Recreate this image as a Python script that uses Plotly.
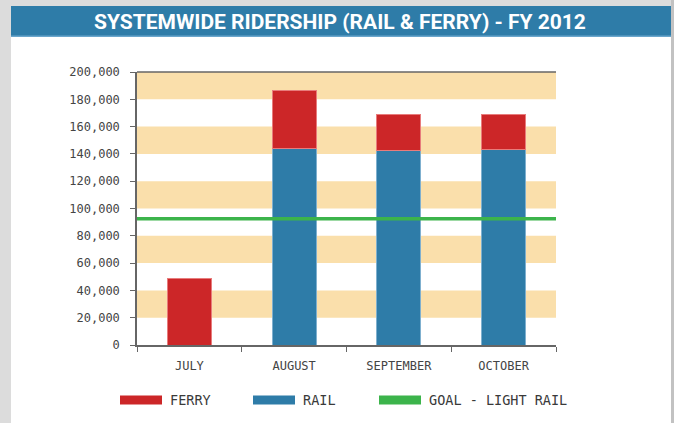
import plotly.graph_objects as go

months = ["JULY", "AUGUST", "SEPTEMBER", "OCTOBER"]
rail = [0, 144000, 142600, 143300]
ferry = [49000, 42100, 26400, 25400]
goal_light_rail = 92500
y_ticks = list(range(0, 200001, 20000))
y_tick_labels = [f"{v:,}" for v in y_ticks]

W, H = 674, 423
L, R, T, B = 137, 556, 72, 345
pw, ph = R - L, B - T

def px(x):
    return (x - L) / pw

def py(y):
    return (B - y) / ph

RED = "#cc2628"
BLUE = "#2e7ca8"
GREEN = "#3cb44b"
BAND = "#fadfab"

fig = go.Figure()
fig.add_trace(go.Bar(x=months, y=rail, name="RAIL", marker=dict(color=BLUE, line=dict(color="#7fb0cf", width=1))))
fig.add_trace(go.Bar(x=months, y=ferry, name="FERRY", marker=dict(color=RED, line=dict(color="#e87c7c", width=1))))

shapes = []
# outer white panel and title bar
shapes.append(dict(type="rect", xref="paper", yref="paper", x0=px(11), x1=px(671), y0=py(423), y1=py(6),
                   fillcolor="white", line=dict(width=0), layer="below"))
shapes.append(dict(type="rect", xref="paper", yref="paper", x0=px(671), x1=px(674), y0=py(423), y1=py(0),
                   fillcolor="#c2c2c2", line=dict(width=0), layer="below"))
shapes.append(dict(type="rect", xref="paper", yref="paper", x0=px(11), x1=px(671), y0=py(37), y1=py(6),
                   fillcolor="#2e7ca8", line=dict(width=0), layer="below"))
shapes.append(dict(type="rect", xref="paper", yref="paper", x0=px(11), x1=px(671), y0=py(37), y1=py(35.5),
                   fillcolor="#6aa6cc", line=dict(width=0), layer="below"))
# alternating bands
for i in range(1, len(y_ticks) - 1, 2):
    shapes.append(dict(type="rect", xref="paper", yref="y", x0=0, x1=1, y0=y_ticks[i], y1=y_ticks[i + 1],
                       fillcolor=BAND, line=dict(width=0), layer="below"))
# goal line
shapes.append(dict(type="line", xref="paper", yref="y", x0=0, x1=1, y0=goal_light_rail, y1=goal_light_rail,
                   line=dict(color=GREEN, width=3.5), layer="above"))
# top border line
shapes.append(dict(type="line", xref="paper", yref="paper", x0=0, x1=1, y0=1, y1=1,
                   line=dict(color="#666666", width=1.5)))

annotations = [dict(text="<b>SYSTEMWIDE RIDERSHIP (RAIL &amp; FERRY) - FY 2012</b>", xref="paper", yref="paper",
                    x=px(340), y=py(21.5), showarrow=False, xanchor="center", yanchor="middle",
                    font=dict(family="Roboto, sans-serif", size=21, color="white"))]

legend_items = [("FERRY", RED, 120), ("RAIL", BLUE, 253), ("GOAL - LIGHT RAIL", GREEN, 379)]
for label, color, x0 in legend_items:
    shapes.append(dict(type="rect", xref="paper", yref="paper", x0=px(x0), x1=px(x0 + 42), y0=py(404.5), y1=py(395.5),
                       fillcolor=color, line=dict(width=0)))
    annotations.append(dict(text=label, xref="paper", yref="paper", x=px(x0 + 48), y=py(399.5), showarrow=False,
                            xanchor="left", yanchor="middle",
                            font=dict(family="DejaVu Sans Mono, monospace", size=13.5, color="#3a3a3a")))

fig.update_layout(
    width=W, height=H,
    margin=dict(l=L, r=W - R, t=T, b=H - B, pad=0),
    paper_bgcolor="#dcdcdc",
    plot_bgcolor="rgba(0,0,0,0)",
    barmode="stack",
    bargap=0.58,
    showlegend=False,
    shapes=shapes,
    annotations=annotations,
    xaxis=dict(showline=True, linecolor="#666666", linewidth=1.5, ticks="outside", tickcolor="#666666",
               ticklen=5, tickson="boundaries", showgrid=False, zeroline=False, ticklabelstandoff=9,
               tickfont=dict(family="DejaVu Sans Mono, monospace", size=12, color="#444444")),
    yaxis=dict(range=[0, 200000], tickvals=y_ticks, ticktext=y_tick_labels, showline=True, linecolor="#666666",
               linewidth=1.5, ticks="outside", tickcolor="#666666", ticklen=5, showgrid=False, zeroline=False,
               ticklabelstandoff=8,
               tickfont=dict(family="DejaVu Sans Mono, monospace", size=12, color="#444444")),
)

fig.write_html("out.html", config={"displayModeBar": False},
               post_script="document.body.style.margin='0';document.body.style.overflow='hidden';")
